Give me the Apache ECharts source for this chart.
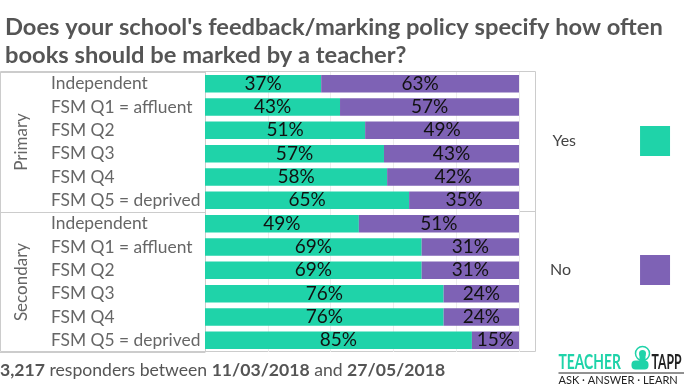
<!DOCTYPE html>
<html>
<head>
<meta charset="utf-8">
<script src="https://cdn.jsdelivr.net/npm/echarts@6/dist/echarts.min.js"></script>
<style>html,body{margin:0;padding:0;background:#fff}#c{width:684px;height:384px}</style>
</head>
<body>
<div id="c"></div>
<script>
const groups = ['Primary', 'Secondary'];
const rowLabels = ['Independent', 'FSM Q1 = affluent', 'FSM Q2', 'FSM Q3', 'FSM Q4', 'FSM Q5 = deprived'];
const categories = rowLabels.concat(rowLabels);
const yesValues = [37, 43, 51, 57, 58, 65, 49, 69, 69, 76, 76, 85];
const noValues = [63, 57, 49, 43, 42, 35, 51, 31, 31, 24, 24, 15];
const xTicks = [0, 20, 40, 60, 80, 100];

const GREEN = '#1fd3a9';
const PURPLE = '#7e62b5';
const FONT = 'Lato, "Open Sans", sans-serif';

const chart = echarts.init(document.getElementById('c'), null, {renderer: 'canvas'});

const labelCfg = {
  show: true, position: 'inside', color: '#111', fontSize: 19, fontFamily: FONT,
  formatter: p => p.value + '%'
};

chart.setOption({
  animation: false,
  backgroundColor: '#fff',
  title: {
    text: "Does your school's feedback/marking policy specify how often\nbooks should be marked by a teacher?",
    left: 0, top: 8,
    textStyle: {fontFamily: FONT, fontSize: 23.7, fontWeight: 'bold', color: '#555', lineHeight: 28}
  },
  legend: {
    orient: 'vertical', left: 545, top: 121, itemWidth: 30, itemHeight: 30, itemGap: 99,
    align: 'right', icon: 'rect',
    formatter: '{a|{name}}',
    textStyle: {fontFamily: FONT, fontSize: 16, color: '#444',
      rich: {a: {fontFamily: FONT, fontSize: 16, color: '#444', padding: [0, 0, 0, 0]}}},
    data: [
      {name: 'Yes', textStyle: {rich: {a: {padding: [0, 59, 0, 0]}}}},
      {name: 'No', textStyle: {rich: {a: {padding: [0, 64, 0, 0]}}}}
    ]
  },
  grid: {left: 205, right: 165, top: 72, bottom: 32},
  xAxis: {
    type: 'value', min: xTicks[0], max: xTicks[xTicks.length - 1], interval: 20,
    axisLabel: {show: false}, axisLine: {show: false}, axisTick: {show: false},
    splitLine: {show: true, lineStyle: {color: '#ececec', width: 1}}
  },
  yAxis: [{
    type: 'category', data: categories, inverse: true,
    axisLine: {show: false}, axisTick: {show: false},
    axisLabel: {align: 'left', margin: 154, fontFamily: FONT, fontSize: 17.4, color: '#666'}
  }, {
    type: 'category', data: groups, inverse: true, position: 'left',
    axisLine: {show: true, lineStyle: {color: '#cccccc', width: 1}},
    axisTick: {show: true, length: 205, interval: 0, lineStyle: {color: '#cccccc', width: 1}},
    axisLabel: {rotate: 90, margin: 175, fontFamily: FONT, fontSize: 17, color: '#666'}
  }],
  series: [{
    name: 'Yes', type: 'bar', stack: 'a', yAxisIndex: 0, data: yesValues, barWidth: '75%',
    itemStyle: {color: GREEN}, label: labelCfg
  }, {
    name: 'No', type: 'bar', stack: 'a', yAxisIndex: 0, data: noValues, barWidth: '75%',
    itemStyle: {color: PURPLE}, label: labelCfg
  }],
  graphic: [
    {type: 'rect', shape: {x: 0.5, y: 71.5, width: 535, height: 280}, style: {fill: null, stroke: '#cccccc', lineWidth: 1}, silent: true},
    {type: 'line', shape: {x1: 519, y1: 211.5, x2: 535, y2: 211.5}, style: {stroke: '#cccccc', lineWidth: 1}},
    {
      type: 'text', left: 0, top: 361,
      style: {
        text: '{b|3,217} responders between {b|11/03/2018} and {b|27/05/2018}',
        fontFamily: FONT, fontSize: 17.6, fill: '#555',
        rich: {b: {fontFamily: FONT, fontSize: 17.6, fontWeight: 'bold', fill: '#555'}}
      }
    },
    {
      type: 'group', left: 556, top: 344,
      children: [
        {type: 'text', x: 0, y: 6, scaleX: 0.66, style: {text: 'TEACHER', fontFamily: FONT, fontWeight: 'bold', fontSize: 21, fill: GREEN}},
        {type: 'circle', shape: {cx: 84, cy: 8, r: 7}, style: {fill: null, stroke: GREEN, lineWidth: 1.5}},
        {type: 'circle', shape: {cx: 84, cy: 8, r: 3.5}, style: {fill: GREEN}},
        {type: 'rect', shape: {x: 81, y: 8, width: 6, height: 14, r: 2}, style: {fill: GREEN}},
        {type: 'rect', shape: {x: 73, y: 15, width: 17, height: 9, r: 4}, style: {fill: GREEN}},
        {type: 'text', x: 93, y: 6, scaleX: 0.58, style: {text: 'TAPP', fontFamily: FONT, fontWeight: 'bold', fontSize: 21, fill: '#222'}},
        {type: 'line', shape: {x1: 0, y1: 27.5, x2: 128, y2: 27.5}, style: {stroke: '#222', lineWidth: 1}},
        {type: 'text', x: 0, y: 28.5, scaleX: 0.92, style: {text: 'ASK · ANSWER · LEARN', fontFamily: FONT, fontSize: 12, fill: '#222'}}
      ]
    }
  ]
});
</script>
</body>
</html>
